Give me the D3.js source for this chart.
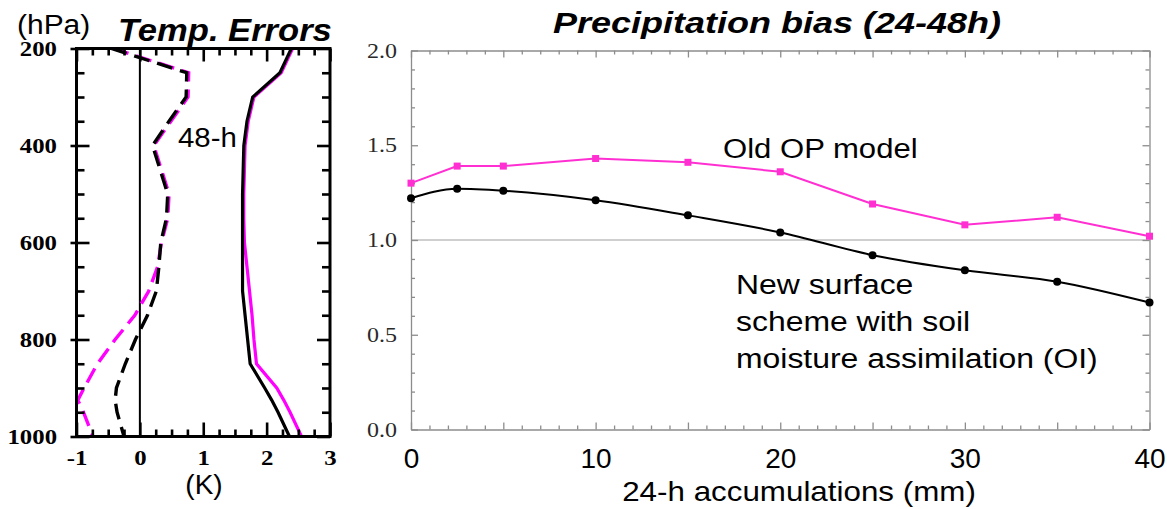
<!DOCTYPE html>
<html><head><meta charset="utf-8">
<script src="https://cdn.jsdelivr.net/npm/d3@7"></script>
<style>body{margin:0;background:#fff;} svg{display:block;}</style>
</head><body><svg id="c" width="1167" height="509"></svg>
<script>
// ---------- Left panel: temperature errors vs pressure ----------
const pressureLevels = [200,250,300,350,400,450,500,550,600,650,700,750,800,850,900,925,950,1000];
const stdOld  = [2.41,2.23,1.80,1.71,1.66,1.65,1.64,1.64,1.65,1.69,1.73,1.77,1.80,1.84,2.16,2.27,2.37,2.55];
const stdNew  = [2.39,2.21,1.78,1.69,1.64,1.63,1.62,1.62,1.62,1.62,1.62,1.66,1.70,1.74,1.97,2.08,2.18,2.36];
const biasOldT = [-0.42,0.77,0.76,0.49,0.22,0.34,0.46,0.44,0.34,0.28,0.14,-0.08,-0.39,-0.67,-0.88,-0.98,-0.89,-0.74];
const biasNewT = [-0.45,0.74,0.73,0.46,0.20,0.32,0.44,0.42,0.33,0.30,0.26,0.12,-0.07,-0.23,-0.37,-0.39,-0.36,-0.25];
const pressureTicks = [200,400,600,800,1000];
const tempTicks = [-1,0,1,2,3];

// ---------- Right panel: precipitation bias ----------
const accum = [0,2.5,5,10,15,20,25,30,35,40];
const precipOld = [1.30,1.39,1.39,1.43,1.41,1.36,1.19,1.08,1.12,1.02];
const precipNew = [1.22,1.27,1.26,1.21,1.13,1.04,0.92,0.84,0.78,0.67];
const accumTicks = [0,10,20,30,40];
const biasTicks = [0,0.5,1,1.5,2];

const MAG = "#ff00ff", MAG2 = "#ff2fd2";
const svg = d3.select("#c");
const SANS = "'Liberation Sans', Arial, Helvetica, sans-serif";
const SERIF = "'Liberation Serif', 'Times New Roman', serif";

function stext(str, x, y, size, sx, opts = {}) {
  return svg.append("text")
    .attr("transform", `translate(${x},${y}) scale(${sx},1)`)
    .attr("font-family", SANS)
    .attr("font-size", size)
    .attr("font-weight", opts.weight || "normal")
    .attr("font-style", opts.style || "normal")
    .attr("text-anchor", opts.anchor || "start")
    .attr("fill", "#000")
    .text(str);
}

// ===== LEFT PANEL =====
const xL = d3.scaleLinear().domain([-1,3]).range([76.5,330]);
const yL = d3.scaleLinear().domain([200,1000]).range([48.5,436.5]);
const L = svg.append("g");

const minorP = d3.range(200,1001,50);
const minorK = d3.range(-1,3.001,0.25);
const SXS = 1.18;

function styleLeftAxis(g) {
  g.select(".domain").remove();
  g.selectAll(".tick line").attr("stroke","#000").attr("stroke-width",2.6);
  g.selectAll("text").attr("font-family",SERIF).attr("font-size",21).attr("font-weight","bold").attr("fill","#000");
}

// zero line
L.append("line").attr("x1",xL(0)).attr("x2",xL(0)).attr("y1",yL(200)).attr("y2",yL(1000))
  .attr("stroke","#000").attr("stroke-width",2);

// curves
const lineL = vals => d3.line().x((d,i) => xL(vals[i])).y(d => yL(d))(pressureLevels);
svg.append("defs").append("clipPath").attr("id","clipL").append("rect")
  .attr("x",xL(-1)).attr("y",yL(200)).attr("width",xL(3)-xL(-1)).attr("height",yL(1000)-yL(200));
const curves = L.append("g").attr("clip-path","url(#clipL)");
curves.append("path").attr("d",lineL(stdOld)).attr("fill","none").attr("stroke",MAG).attr("stroke-width",3.2);
curves.append("path").attr("d",lineL(biasOldT)).attr("fill","none").attr("stroke",MAG).attr("stroke-width",3.4).attr("stroke-dasharray","16,8");
curves.append("path").attr("d",lineL(stdNew)).attr("fill","none").attr("stroke","#000").attr("stroke-width",3.2);
curves.append("path").attr("d",lineL(biasNewT)).attr("fill","none").attr("stroke","#000").attr("stroke-width",3.4).attr("stroke-dasharray","16,8");

// frame
L.append("rect").attr("x",xL(-1)).attr("y",yL(200)).attr("width",xL(3)-xL(-1)).attr("height",yL(1000)-yL(200))
  .attr("fill","none").attr("stroke","#000").attr("stroke-width",3);

// left y axis
const gyl = L.append("g").attr("transform",`translate(${xL(-1)},0)`)
  .call(d3.axisLeft(yL).tickValues(minorP).tickSizeInner(-8).tickSizeOuter(0)
    .tickFormat(d => pressureTicks.includes(d) ? d : ""));
styleLeftAxis(gyl);
gyl.selectAll(".tick").filter(d => pressureTicks.includes(d)).select("line").attr("x1",-6).attr("x2",13);
gyl.selectAll(".tick text").attr("x",-19.5/SXS).attr("dy","0.34em").attr("transform",`scale(${SXS},1)`);

// right y axis (ticks only)
const gyr = L.append("g").attr("transform",`translate(${xL(3)},0)`)
  .call(d3.axisRight(yL).tickValues(minorP).tickSizeInner(-8).tickSizeOuter(0).tickFormat(""));
styleLeftAxis(gyr);
gyr.selectAll(".tick").filter(d => pressureTicks.includes(d)).select("line").attr("x2",-13);

// bottom x axis
const gxb = L.append("g").attr("transform",`translate(0,${yL(1000)})`)
  .call(d3.axisBottom(xL).tickValues(minorK).tickSizeInner(-7).tickSizeOuter(0)
    .tickFormat(d => Number.isInteger(d) ? d : ""));
styleLeftAxis(gxb);
gxb.selectAll(".tick").filter(d => Number.isInteger(d)).select("line").attr("y2",-14);
gxb.selectAll(".tick text").attr("y",28.5).attr("dy",0).attr("transform",`scale(${SXS},1)`);

// top x axis
const gxt = L.append("g").attr("transform",`translate(0,${yL(200)})`)
  .call(d3.axisTop(xL).tickValues(minorK).tickSizeInner(-7).tickSizeOuter(0).tickFormat(""));
styleLeftAxis(gxt);
gxt.selectAll(".tick").filter(d => Number.isInteger(d)).select("line").attr("y2",13);

// texts
stext("(hPa)", 17, 34, 28, 1.07);
stext("Temp. Errors", 118, 41, 31, 1.115, {weight:"bold", style:"italic"});
stext("48-h", 178, 147, 28, 1.05);
stext("(K)", 204, 494, 28, 1.0, {anchor:"middle"});

// ===== RIGHT PANEL =====
const xR = d3.scaleLinear().domain([0,40]).range([411,1149.5]);
const yR = d3.scaleLinear().domain([0,2]).range([429.5,50.5]);
const R = svg.append("g");
const GRAY = "#8c8c8c";
const minorX = d3.range(0,41,1);
const minorY = d3.range(0,2.001,0.1).map(v => Math.round(v*10)/10);
const isMajX = d => d % 5 === 0;
const isMajY = d => Math.abs(d*2 - Math.round(d*2)) < 1e-6;

function styleRightAxis(g) {
  g.select(".domain").attr("stroke",GRAY).attr("stroke-width",1.3);
  g.selectAll(".tick line").attr("stroke",GRAY).attr("stroke-width",1.3);
}

// reference line at 1.0
R.append("line").attr("x1",xR(0)).attr("x2",xR(40)).attr("y1",yR(1)).attr("y2",yR(1))
  .attr("stroke","#a0a0a0").attr("stroke-width",1.2);

const gxrb = R.append("g").attr("transform",`translate(0,${yR(0)})`)
  .call(d3.axisBottom(xR).tickValues(minorX).tickSizeInner(-4).tickSizeOuter(0)
    .tickFormat(d => accumTicks.includes(d) ? d : ""));
styleRightAxis(gxrb);
gxrb.selectAll(".tick").filter(isMajX).select("line").attr("y2",-7);
gxrb.selectAll(".tick text").attr("y",38.5).attr("dy",0)
  .attr("font-family",SANS).attr("font-size",28).attr("fill","#000");

const gxrt = R.append("g").attr("transform",`translate(0,${yR(2)})`)
  .call(d3.axisTop(xR).tickValues(minorX).tickSizeInner(-4).tickSizeOuter(0).tickFormat(""));
styleRightAxis(gxrt);
gxrt.selectAll(".tick").filter(isMajX).select("line").attr("y2",7);

const gyrl = R.append("g").attr("transform",`translate(${xR(0)},0)`)
  .call(d3.axisLeft(yR).tickValues(minorY).tickSizeInner(-4).tickSizeOuter(0)
    .tickFormat(d => isMajY(d) ? d3.format(".1f")(d) : ""));
styleRightAxis(gyrl);
gyrl.selectAll(".tick").filter(isMajY).select("line").attr("x2",7);
gyrl.selectAll(".tick text").attr("x",-14/1.2).attr("dy","0.33em").attr("transform","scale(1.2,1)")
  .attr("font-family",SERIF).attr("font-size",20).attr("fill","#2a2a2a");

const gyrr = R.append("g").attr("transform",`translate(${xR(40)},0)`)
  .call(d3.axisRight(yR).tickValues(minorY).tickSizeInner(-4).tickSizeOuter(0).tickFormat(""));
styleRightAxis(gyrr);
gyrr.selectAll(".tick").filter(isMajY).select("line").attr("x2",-7);

// series
const lineOld = d3.line().x((d,i) => xR(accum[i])).y(d => yR(d));
const lineNew = d3.line().x((d,i) => xR(accum[i])).y(d => yR(d)).curve(d3.curveMonotoneX);
R.append("path").attr("d",lineOld(precipOld)).attr("fill","none").attr("stroke",MAG2).attr("stroke-width",2);
R.append("path").attr("d",lineNew(precipNew)).attr("fill","none").attr("stroke","#000").attr("stroke-width",2);
R.selectAll("rect.m").data(precipOld).enter().append("rect").attr("class","m")
  .attr("x",(d,i) => xR(accum[i]) - 3.5).attr("y",d => yR(d) - 3.5)
  .attr("width",7).attr("height",7).attr("fill",MAG2);
R.selectAll("circle.m").data(precipNew).enter().append("circle").attr("class","m")
  .attr("cx",(d,i) => xR(accum[i])).attr("cy",d => yR(d)).attr("r",4).attr("fill","#000");

// texts
stext("Precipitation bias (24-48h)", 553, 33, 30, 1.2, {weight:"bold", style:"italic"});
stext("Old OP model", 723, 158, 28, 1.11);
stext("New surface", 736, 294, 28, 1.14);
stext("scheme with soil", 736, 331, 28, 1.14);
stext("moisture assimilation (OI)", 736, 368, 28, 1.14);
stext("24-h accumulations (mm)", 799, 501, 28, 1.12, {anchor:"middle"});
</script></body></html>
